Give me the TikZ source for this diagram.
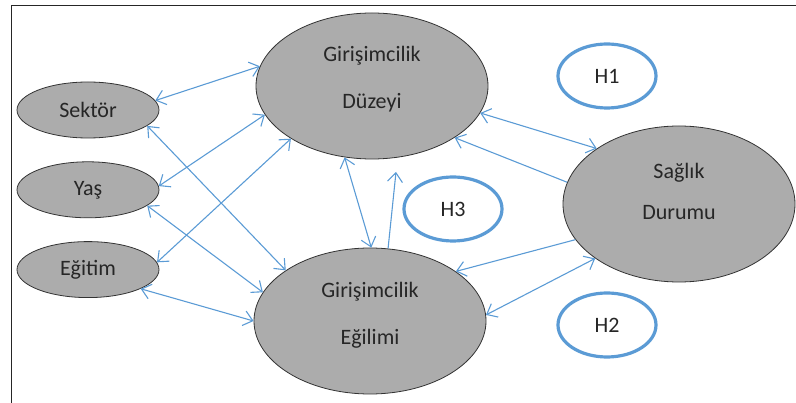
\documentclass[tikz,border=0pt]{standalone}
\usepackage{fontspec}
\setmainfont{Carlito}
\usepackage{tikz}
\usetikzlibrary{shapes,positioning,arrows.meta}
\definecolor{linkblue}{RGB}{91,155,213}
\definecolor{bubblegray}{RGB}{172,172,172}

\tikzset{
    var/.style={ellipse, draw=black!80, line width=0.8pt, fill=bubblegray, inner sep=0pt,
        text=black!85, align=center},
    smallvar/.style={var, minimum width=142pt, minimum height=56pt},
    bigvar/.style={var, minimum width=232pt, minimum height=146pt},
    hyp/.style={ellipse, draw=linkblue, line width=3.2pt, fill=white, inner sep=0pt,
        minimum width=98pt, minimum height=64pt, text=black!85},
    link/.style={linkblue, line width=1.1pt,
        {Straight Barb[length=9pt,width=15pt]}-{Straight Barb[length=9pt,width=15pt]}},
    oneway/.style={linkblue, line width=1.1pt, -{Straight Barb[length=9pt,width=15pt]}}
}

\begin{document}
\begin{tikzpicture}[x=1pt, y=-1pt, every node/.append style={font=\fontsize{22}{26}\selectfont}]
    \useasboundingbox (0,0) rectangle (796,403);
    \draw[line width=1pt, black!85] (11,403) -- (11,6) -- (796,6);

    % control variables
    \node[smallvar] (sektor) at (88,110) {Sektör};
    \node[smallvar, below=23pt of sektor] (yas) {Yaş};
    \node[smallvar, below=23pt of yas] (egitim) {Eğitim};

    % main constructs
    \node[bigvar, font=\fontsize{22}{47}\selectfont, text depth=17.5pt] (duzeyi) at (372,86) {Girişimcilik\\Düzeyi};
    \node[bigvar, font=\fontsize{22}{47}\selectfont, text depth=14.5pt] (egilim) at (370,321) {Girişimcilik\\Eğilimi};
    \node[var, minimum width=232pt, minimum height=156pt, font=\fontsize{22}{41}\selectfont,
        text depth=25pt] (saglik) at (679,204) {Sağlık\\Durumu};

    % hypotheses
    \node[hyp] (h1) at (607,76) {H1};
    \node[hyp] (h3) at (453,209) {H3};
    \node[hyp] (h2) at (607,325) {H2};

    % controls to constructs
    \draw[link] (sektor.8) -- (duzeyi.170);
    \draw[link] (sektor.345) -- (egilim.149);
    \draw[link] (yas.3) -- (duzeyi.195);
    \draw[link] (yas.345) -- (egilim.165);
    \draw[link] (egitim.6) -- (duzeyi.213);
    \draw[link] (egitim.340) -- (egilim.180);

    % between constructs
    \coordinate (upend) at (396,172);
    \draw[link] (duzeyi.249) -- (egilim.89);
    \draw[oneway] (egilim.76) -- (upend);
    \draw[link] (duzeyi.346) -- (saglik.146);
    \draw[oneway] (saglik.169) -- (duzeyi.328);
    \draw[oneway] (saglik.199) -- (egilim.30);
    \draw[link] (egilim.3) -- (saglik.213);
\end{tikzpicture}
\end{document}
